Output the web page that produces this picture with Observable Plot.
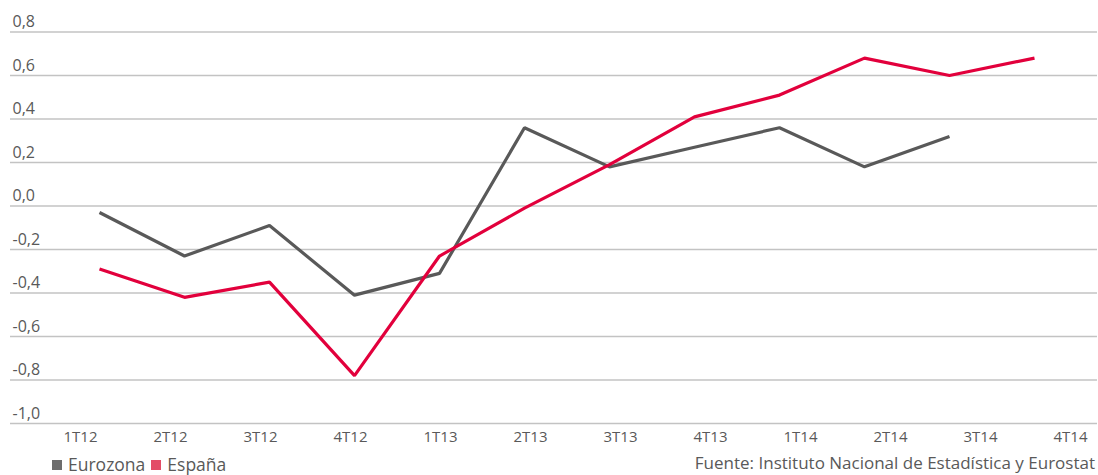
<!DOCTYPE html>
<html>
<head>
<meta charset="utf-8">
<script src="https://cdn.jsdelivr.net/npm/d3@7"></script>
<script src="https://cdn.jsdelivr.net/npm/@observablehq/plot@0.6"></script>
<style>
  html, body { margin: 0; padding: 0; background: #fff; overflow: hidden; }
  #chart { position: relative; width: 1098px; height: 475px; font-family: "Open Sans", sans-serif; color: #595959; overflow: hidden; }
  #chart svg { position: absolute; left: 0; }
  .legend { position: absolute; left: 52px; top: 453px; font-size: 17.5px; line-height: 22px; display: flex; align-items: center; white-space: nowrap; }
  .legend .sw { display: inline-block; width: 10px; height: 10px; margin-right: 6px; margin-top: 2px; }
  .legend .item { display: inline-flex; align-items: center; margin-right: 6px; }
  .source { position: absolute; right: 3px; top: 451px; font-size: 17px; line-height: 24px; white-space: nowrap; }
</style>
</head>
<body>
<div id="chart"></div>
<script>
// Quarterly series (% change), 2012–2014
const quarters = ["1T12","2T12","3T12","4T12","1T13","2T13","3T13","4T13","1T14","2T14","3T14","4T14"];
const eurozona = [-0.03, -0.23, -0.09, -0.41, -0.31, 0.36, 0.18, 0.27, 0.36, 0.18, 0.32, null];
const espana   = [-0.29, -0.42, -0.35, -0.78, -0.23, -0.01, 0.19, 0.41, 0.51, 0.68, 0.60, 0.68];
const yTicks = [-1.0, -0.8, -0.6, -0.4, -0.2, 0.0, 0.2, 0.4, 0.6, 0.8];

const seriesNames = ["Eurozona", "España"];
const lineColors = ["#595959", "#e2003c"];
const swatchColors = ["#6d6d6d", "#e34d67"];

const rows = [];
quarters.forEach((q, i) => {
  if (eurozona[i] != null) rows.push({q, serie: "Eurozona", v: eurozona[i]});
  if (espana[i] != null) rows.push({q, serie: "España", v: espana[i]});
});

const fmt = d => d3.format(".1f")(d).replace(".", ",").replace("−", "-");
const W = 1098;

const main = Plot.plot({
  width: W,
  height: 430,
  marginTop: 31.5,
  marginBottom: 7,
  marginLeft: 10,
  marginRight: 1,
  style: {fontFamily: "Open Sans, sans-serif", fontSize: "16px", color: "#595959", overflow: "visible"},
  x: {type: "point", domain: quarters, range: [97, 1036], padding: 0, axis: null},
  y: {domain: [-1.0, 0.8], axis: null},
  color: {domain: seriesNames, range: lineColors},
  marks: [
    // horizontal gridlines spanning the full frame
    Plot.ruleY(yTicks, {stroke: "#c3c3c3", strokeWidth: 1.4}),
    Plot.text(yTicks, {x: () => quarters[0], y: d => d, text: fmt, textAnchor: "start", dx: -87, dy: -10, fill: "#595959", fontSize: 16}),
    Plot.line(rows, {x: "q", y: "v", z: "serie", stroke: "serie", strokeWidth: 3.2, strokeLinejoin: "miter", strokeLinecap: "butt"})
  ]
});
main.style.top = "0px";

// Category labels along the bottom
const axis = Plot.plot({
  width: W,
  height: 26,
  marginTop: 0,
  marginBottom: 26,
  style: {fontFamily: "Open Sans, sans-serif", fontSize: "15px", color: "#595959"},
  x: {type: "point", domain: quarters, range: [75, 1075], padding: 0},
  marks: [
    Plot.axisX({anchor: "bottom", tickSize: 0, tickPadding: 8, fill: "#595959", fontSize: 15})
  ]
});
axis.style.top = "423px";

const chart = document.getElementById("chart");
chart.appendChild(main);
chart.appendChild(axis);

const legend = document.createElement("div");
legend.className = "legend";
seriesNames.forEach((n, i) => {
  const it = document.createElement("span");
  it.className = "item";
  const sw = document.createElement("span");
  sw.className = "sw";
  sw.style.background = swatchColors[i];
  it.appendChild(sw);
  it.appendChild(document.createTextNode(n));
  legend.appendChild(it);
});
chart.appendChild(legend);

const source = document.createElement("div");
source.className = "source";
source.textContent = "Fuente: Instituto Nacional de Estadística y Eurostat";
chart.appendChild(source);
</script>
</body>
</html>
